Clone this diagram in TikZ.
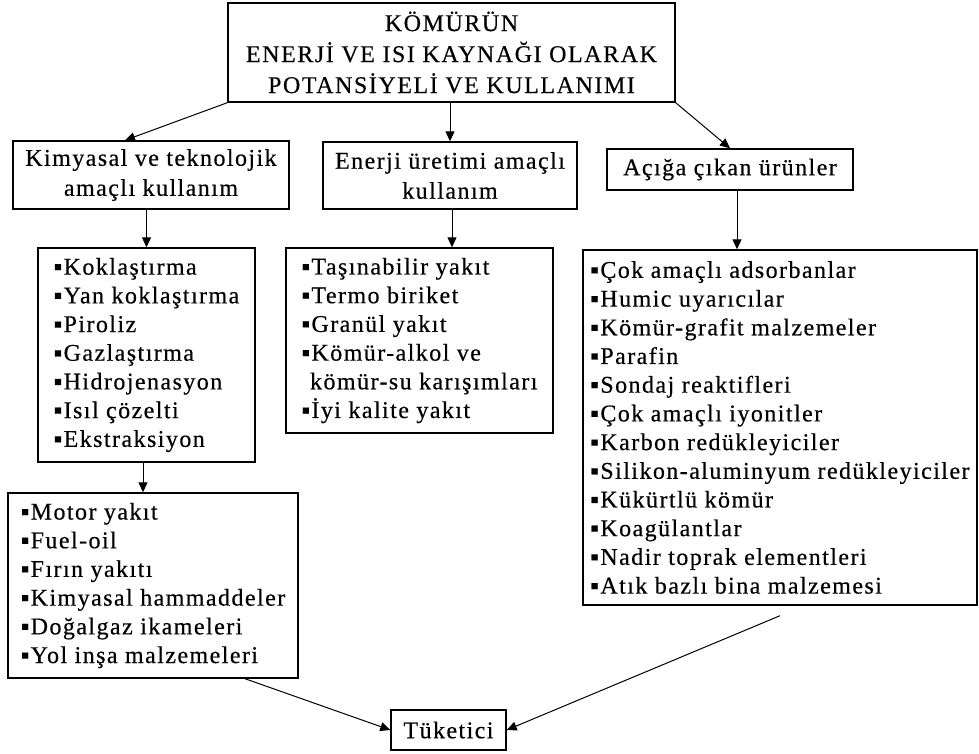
\documentclass[tikz,border=0pt]{standalone}
\usepackage{fontspec}
\setmainfont{Liberation Serif}[LetterSpace=6,FakeBold=0.4]
\newfontfamily\titlefont{Liberation Serif}[LetterSpace=6.5,FakeBold=0.4]
\usetikzlibrary{arrows.meta,calc}
\begin{document}
\begin{tikzpicture}[x=1pt,y=-1pt,
  box/.style={draw, line width=1.4pt, inner sep=0pt, align=left, font=\fontsize{24}{28.7}\selectfont},
  hbox/.style={draw, line width=1.4pt, inner sep=0pt, align=center, font=\fontsize{24}{30}\selectfont},
  tbox/.style={draw, line width=1.4pt, inner sep=0pt, align=center, font=\titlefont\fontsize{24}{31}\selectfont},
  arr/.style={-{Triangle[length=10pt,width=9pt]}, line width=1pt}]
\useasboundingbox (0,0) rectangle (979,753);
\fill[white] (0,0) rectangle (979,753);
\node[tbox, minimum width=447pt, minimum height=99pt] (top) at (451.5,52.5)
  {KÖMÜRÜN\\ENERJİ VE ISI KAYNAĞI OLARAK\\POTANSİYELİ VE KULLANIMI};
\node[hbox, minimum width=276pt, minimum height=68pt] (A) at (151,175)
  {Kimyasal ve teknolojik\\amaçlı kullanım};
\node[hbox, minimum width=254pt, minimum height=67pt] (B) at (450,175.5)
  {Enerji üretimi amaçlı\\kullanım};
\node[hbox, minimum width=246pt, minimum height=41pt] (C) at (730,169.5)
  {Açığa çıkan ürünler};
\node[box, minimum width=217pt, minimum height=214pt] (A2) at (146.5,355)
  {▪Koklaştırma\\▪Yan koklaştırma\\▪Piroliz\\▪Gazlaştırma\\▪Hidrojenasyon\\▪Isıl çözelti\\▪Ekstraksiyon};
\node[box, minimum width=267pt, minimum height=185pt] (B2) at (419.5,340.5)
  {▪Taşınabilir yakıt\\▪Termo biriket\\▪Granül yakıt\\▪Kömür-alkol ve\\\phantom{▪}kömür-su karışımları\\▪İyi kalite yakıt};
\node[box, minimum width=394pt, minimum height=355pt] (C2) at (780,427.5)
  {▪Çok amaçlı adsorbanlar\\▪Humic uyarıcılar\\▪Kömür-grafit malzemeler\\▪Parafin\\▪Sondaj reaktifleri\\▪Çok amaçlı iyonitler\\▪Karbon redükleyiciler\\▪Silikon-aluminyum redükleyiciler\\▪Kükürtlü kömür\\▪Koagülantlar\\▪Nadir toprak elementleri\\▪Atık bazlı bina malzemesi};
\node[box, minimum width=290pt, minimum height=185pt] (A3) at (153,585.5)
  {▪Motor yakıt\\▪Fuel-oil\\▪Fırın yakıtı\\▪Kimyasal hammaddeler\\▪Doğalgaz ikameleri\\▪Yol inşa malzemeleri};
\node[hbox, minimum width=115pt, minimum height=40pt] (T) at (448.5,730)
  {Tüketici};
% connectors
\draw[arr] (top.south west) -- ([xshift=-26pt]A.north);
\draw[arr] (B.north |- top.south) -- (B.north);
\draw[arr] (top.south east) -- (C.north);
\draw[arr] (A2.north |- A.south) -- (A2.north);
\coordinate (bs) at ([xshift=2pt]B.south);
\draw[arr] (bs) -- (bs |- B2.north);
\coordinate (cs) at ([xshift=7pt]C.south);
\draw[arr] (cs) -- (cs |- C2.north);
\coordinate (a2s) at ([xshift=-3.5pt]A2.south);
\draw[arr] (a2s) -- (a2s |- A3.north);
\draw[arr] ([xshift=92pt]A3.south) -- (T.west);
\coordinate (c2e) at ([yshift=-10pt]C2.south);
\draw[arr] (c2e) -- (T.east);
\end{tikzpicture}
\end{document}
